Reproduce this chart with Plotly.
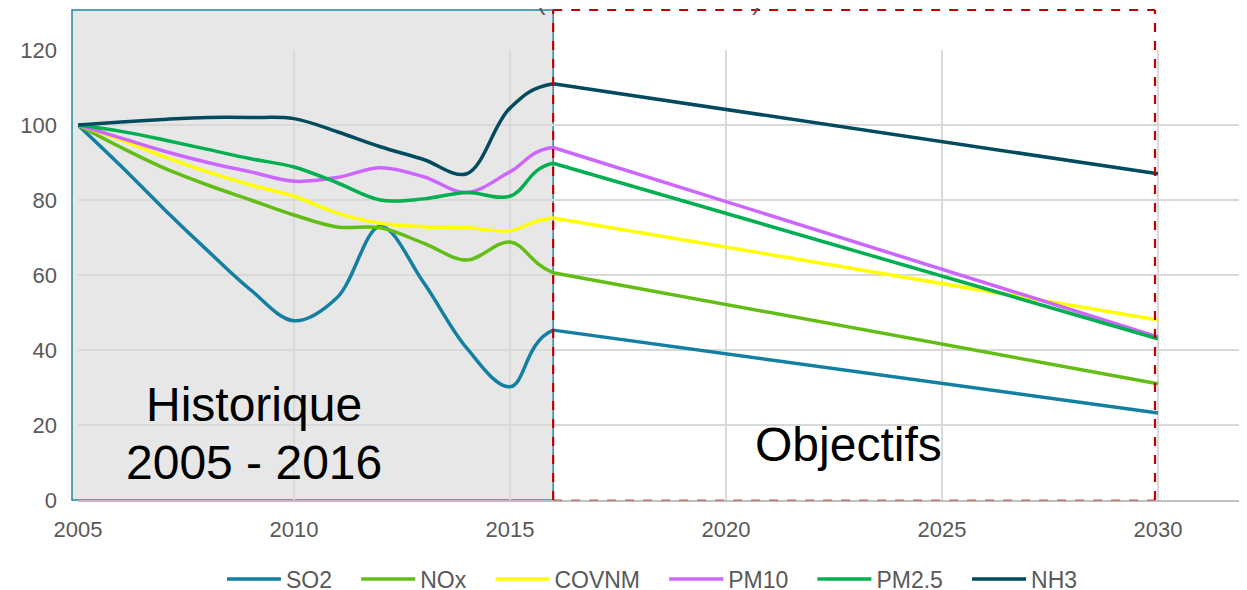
import plotly.graph_objects as go

# Données (base 100 en 2005)
annees = [2005, 2006, 2007, 2008, 2009, 2010, 2011, 2012, 2013, 2014, 2015, 2016, 2030]
so2 = [100, 89, 77.5, 66.5, 56, 47.8, 54, 73, 58, 40.5, 30.2, 45.3, 23.2]
nox = [100, 94, 88.5, 84, 80, 76, 72.8, 72.6, 68.5, 64, 68.8, 60.6, 31]
covnm = [100, 96, 91.5, 87.5, 84, 81, 76.5, 73.8, 72.9, 72.6, 71.8, 75.2, 48]
pm10 = [100, 96.5, 93, 90, 87.5, 85, 86, 88.6, 86.2, 82, 87.5, 94, 43.5]
pm25 = [100, 98.3, 96, 93.5, 91, 88.8, 84.6, 80, 80.3, 82, 81, 89.8, 43]
nh3 = [100, 100.8, 101.5, 102, 102, 101.7, 98.2, 94.2, 90.8, 87, 104.5, 111, 87]

SERIES = [
    ("SO2", so2, "#127FA3"),
    ("NOx", nox, "#62BE14"),
    ("COVNM", covnm, "#FFFF00"),
    ("PM10", pm10, "#CC66FF"),
    ("PM2.5", pm25, "#00B050"),
    ("NH3", nh3, "#024B5E"),
]
I_2016 = annees.index(2016)

X_MIN, X_MAX = 2005, 2031.9
Y_MIN, Y_MAX = 0, 120

# la page html ajoute une marge de 8 px autour de la figure
DECAL = 8
FEN_W, FEN_H = 1247, 590
W, H = FEN_W - DECAL, FEN_H - DECAL
L, R, T, B = 78 - DECAL, 7, 50 - DECAL, 90
PW, PH = W - L - R, H - T - B


def px_x(px):
    # pixel de la fenêtre -> coordonnée papier
    return (px - DECAL - L) / PW


def px_y(py):
    return (H - B - (py - DECAL)) / PH


def an_x(annee):
    return (annee - X_MIN) / (X_MAX - X_MIN)


x_fin_hist = an_x(2016)

fig = go.Figure()

espace = "\u00a0" * 3  # écart entre les entrées de légende
for nom, valeurs, couleur in SERIES:
    # historique lissé (courbe complète, coupée en 2016 par l'axe x2)
    fig.add_trace(go.Scatter(
        x=annees, y=valeurs, name=nom + espace, mode='lines',
        legendgroup=nom, xaxis='x2', yaxis='y',
        line=dict(color=couleur, width=3.5, shape='spline', smoothing=1),
        hovertemplate=nom + ' %{x}: %{y}<extra></extra>'
    ))
    # trajectoire objectif
    fig.add_trace(go.Scatter(
        x=annees[I_2016:], y=valeurs[I_2016:], name=nom, mode='lines',
        legendgroup=nom, showlegend=False,
        line=dict(color=couleur, width=3.5),
        hovertemplate=nom + ' %{x}: %{y}<extra></extra>'
    ))

# Zones historique / objectifs
fig.add_shape(type='rect', xref='paper', yref='paper',
              x0=px_x(72), x1=x_fin_hist, y0=0, y1=px_y(10),
              fillcolor='#E7E7E7', line=dict(color='#1F8AA8', width=1.5),
              layer='below')

rouge = '#C00000'
x_fin_obj = px_x(1155)
for x0, y0, x1, y1, c in [
    (x_fin_hist, px_y(10), x_fin_obj, px_y(10), rouge),
    (x_fin_hist, 0, x_fin_hist, px_y(10), rouge),
    (x_fin_obj, 0, x_fin_obj, px_y(10), rouge),
    (x_fin_hist, 0, x_fin_obj, 0, 'rgba(192,0,0,0.35)'),
]:
    fig.add_shape(type='line', xref='paper', yref='paper',
                  x0=x0, y0=y0, x1=x1, y1=y1,
                  line=dict(color=c, width=2.2, dash='dash'))

police = "Liberation Sans, Arial, sans-serif"
for texte, px, py in [("Historique", 254, 404), ("2005 - 2016", 254, 462), ("Objectifs", 848, 444)]:
    fig.add_annotation(text=texte, xref='paper', yref='paper',
                       x=px_x(px), y=px_y(py), xanchor='center', yanchor='middle',
                       showarrow=False,
                       font=dict(family=police, size=48, color='black'))

# bas des parenthèses du titre coupé
for px, t in [(541, "("), (756, ")")]:
    fig.add_annotation(text=t, xref='paper', yref='paper',
                       x=px_x(px), y=px_y(18), xanchor='center', yanchor='bottom',
                       showarrow=False,
                       font=dict(family=police, size=26, color='#595959'))

fig.update_layout(
    width=W, height=H,
    margin=dict(l=L, r=R, t=T, b=B, autoexpand=False),
    paper_bgcolor='white', plot_bgcolor='rgba(0,0,0,0)',
    font=dict(family=police, color='#595959'),
    showlegend=True,
    legend=dict(orientation='h', x=px_x(662), xanchor='center', xref='paper',
                y=px_y(579), yanchor='middle', itemwidth=54,
                font=dict(size=23, color='#595959')),
    xaxis=dict(range=[X_MIN, X_MAX], tick0=2005, dtick=5, showgrid=True,
               gridcolor='#D9D9D9', gridwidth=1.5, zeroline=False,
               showline=True, linecolor='#BFBFBF', linewidth=1.5,
               ticks='', ticklabelstandoff=9, automargin=False,
               tickfont=dict(size=22, color='#595959')),
    # même échelle que xaxis, limitée à la période historique
    xaxis2=dict(range=[X_MIN, 2016], domain=[0, x_fin_hist], anchor='y',
                visible=False, showgrid=False, zeroline=False),
    yaxis=dict(range=[Y_MIN, Y_MAX], dtick=20, showgrid=True,
               gridcolor='#D9D9D9', gridwidth=1.5, zeroline=False,
               showline=False, ticks='', ticklabelstandoff=20, automargin=False,
               tickfont=dict(size=22, color='#595959')),
)

fig.write_html("out.html")
